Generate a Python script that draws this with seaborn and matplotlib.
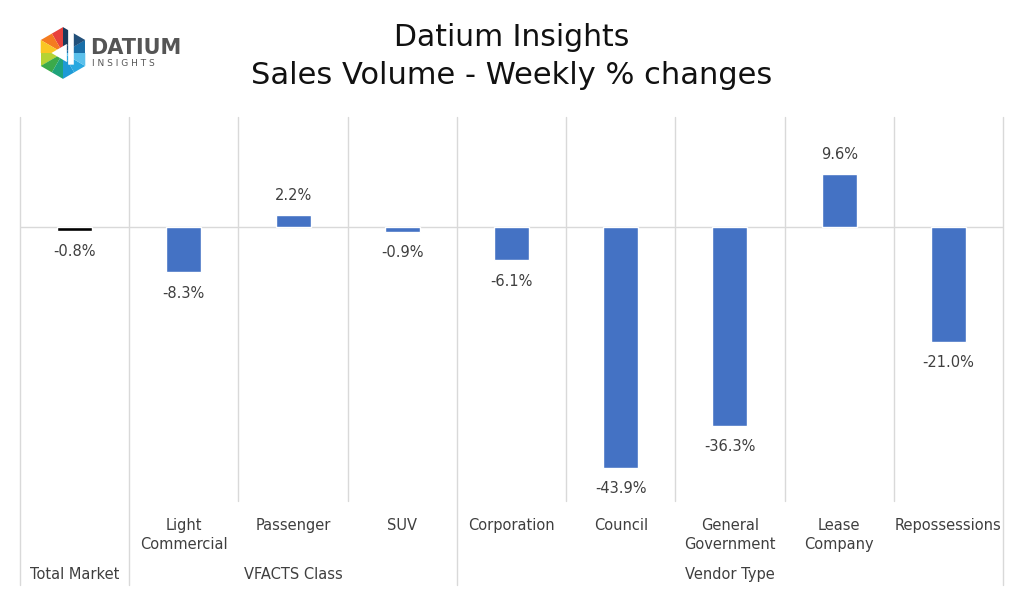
import numpy as np
import pandas as pd
import matplotlib
matplotlib.use('Agg')
import matplotlib.pyplot as plt
from matplotlib.patches import Polygon
import seaborn as sns

# chart data
categories = ['Total Market', 'Light Commercial', 'Passenger', 'SUV', 'Corporation',
              'Council', 'General Government', 'Lease Company', 'Repossessions']
tick_labels = ['', 'Light\nCommercial', 'Passenger', 'SUV', 'Corporation',
               'Council', 'General\nGovernment', 'Lease\nCompany', 'Repossessions']
changes = [-0.8, -8.3, 2.2, -0.9, -6.1, -43.9, -36.3, 9.6, -21.0]
groups = ['Total Market', 'VFACTS Class', 'Vendor Type']
group_spans = [(0, 0), (1, 3), (4, 8)]
bar_colors = ['#000000'] + ['#4472C4'] * 8

sns.set_style('white')
plt.rcParams['font.family'] = ['DejaVu Sans']
text_col = '#3F3F3F'
grid_col = '#D9D9D9'

df = pd.DataFrame({'category': categories, 'change': changes})

fig = plt.figure(figsize=(10.24, 5.94), dpi=100)
ax = fig.add_axes([20 / 1024, 1 - 501 / 594, 983 / 1024, 384 / 594])

sns.barplot(data=df, x='category', y='change', hue='category', palette=bar_colors,
            width=0.32, legend=False, ax=ax, saturation=1, zorder=3)

ax.set_ylim(-50, 20)
ax.set_xlim(-0.5, len(categories) - 0.5)
ax.set_yticks([])
ax.set_ylabel('')
ax.set_xlabel('')
for s in ax.spines.values():
    s.set_visible(False)

ax.axhline(0, color=grid_col, lw=1, zorder=1)

# category separators; group borders run down through the label area
long_lines = {-0.5, 0.5, 3.5, 8.5}
for b in np.arange(-0.5, len(categories), 1.0):
    y0 = -0.219 if b in long_lines else 0.0
    ax.plot([b, b], [y0, 1], color=grid_col, lw=1, clip_on=False,
            transform=ax.get_xaxis_transform(), zorder=1)

ax.set_xticks(range(len(categories)))
ax.set_xticklabels(tick_labels, fontsize=10.5, color=text_col, va='top', linespacing=1.3)
ax.tick_params(axis='x', length=0, pad=12.5)

for g, (a, b) in zip(groups, group_spans):
    ax.text((a + b) / 2, -0.192, g, transform=ax.get_xaxis_transform(),
            ha='center', va='center', fontsize=10.5, color=text_col)

# data labels
for i, v in enumerate(changes):
    off = 14 if v >= 0 else -15
    ax.annotate(f'{v:.1f}%', (i, v), xytext=(0, off), textcoords='offset points',
                ha='center', va='center', fontsize=10.5, color=text_col)

fig.text(0.5, 1 - 37 / 594, 'Datium Insights', ha='center', va='center', fontsize=21.5, color='#111111')
fig.text(0.5, 1 - 75 / 594, 'Sales Volume - Weekly % changes', ha='center', va='center',
         fontsize=22, color='#111111')

# logo: hexagon of coloured triangles
lax = fig.add_axes([36 / 1024, 1 - 82 / 594, 54 / 1024, 58 / 594])
lax.set_xlim(-1.05, 1.05)
lax.set_ylim(-1.12, 1.12)
lax.axis('off')
ang = np.deg2rad(90 + 60 * np.arange(6))
verts = np.c_[np.cos(ang), np.sin(ang)]
sector_cols = [('#E8413C', '#F47B20'), ('#F9C623', '#B5D334'), ('#3BAA4A', '#1FA37A'),
               ('#1E9AD6', '#29A8E0'), ('#5BC0EB', '#1A6FA8'), ('#22507A', '#1B3A5C')]
for k in range(6):
    p1, p2 = verts[k], verts[(k + 1) % 6]
    mid = (p1 + p2) / 2
    c1, c2 = sector_cols[k]
    lax.add_patch(Polygon([[0, 0], p1, mid], closed=True, color=c1, lw=0))
    lax.add_patch(Polygon([[0, 0], mid, p2], closed=True, color=c2, lw=0))
lax.add_patch(Polygon([[-0.45, 0], [0.15, 0.35], [0.15, -0.35]], closed=True, color='white', lw=0))
lax.add_patch(Polygon([[0.2, -0.45], [0.42, -0.45], [0.42, 1.0], [0.2, 0.9]], closed=True,
                      color='white', lw=0))
fig.text(90 / 1024, 1 - 48 / 594, 'DATIUM', ha='left', va='center', fontsize=15,
         fontweight='bold', color='#555555')
fig.text(92 / 1024, 1 - 64 / 594, 'I N S I G H T S', ha='left', va='center', fontsize=6.5,
         color='#555555')

fig.savefig('out.png', dpi=100)
